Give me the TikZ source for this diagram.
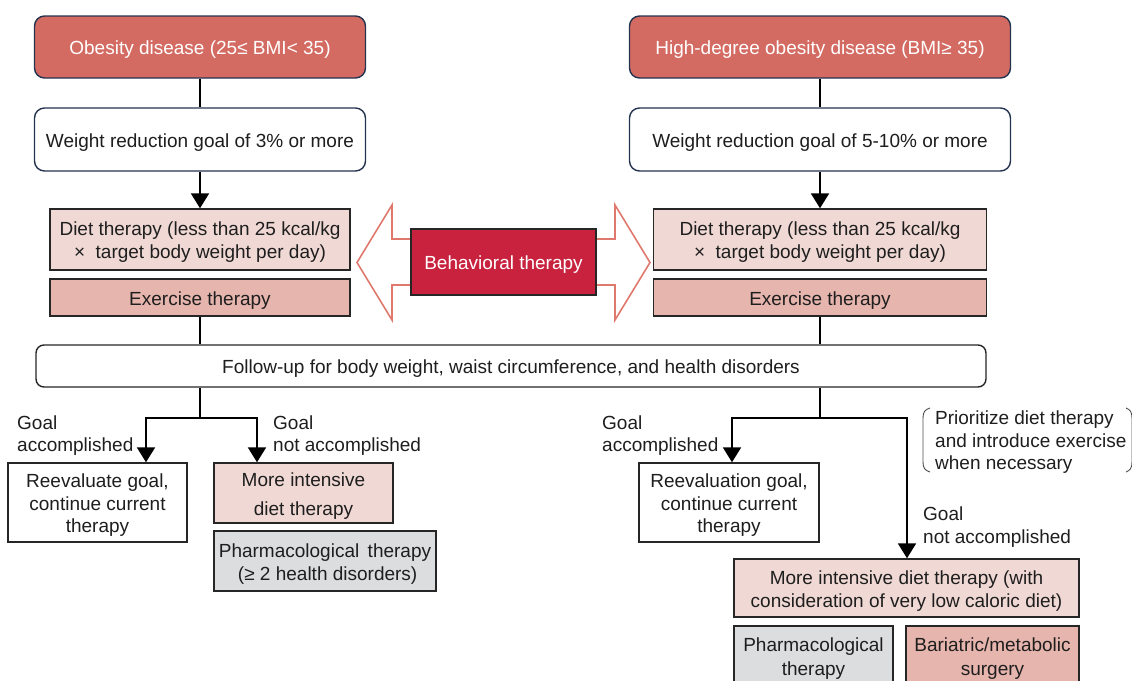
\documentclass[tikz,border=0pt]{standalone}
\usepackage{fontspec}
\setmainfont{Liberation Sans}
\usetikzlibrary{arrows.meta}
\definecolor{topfill}{HTML}{D46B63}
\definecolor{navy}{HTML}{24344F}
\definecolor{dietfill}{HTML}{F0D9D4}
\definecolor{exfill}{HTML}{E6B5AD}
\definecolor{behfill}{HTML}{C8223F}
\definecolor{arrline}{HTML}{E0796D}
\definecolor{grayfill}{HTML}{DCDDDF}
\definecolor{txt}{HTML}{1E1E1E}
\newcommand{\tstrut}{\rule{0pt}{19.8pt}}
\begin{document}
\begin{tikzpicture}[x=1pt,y=-1pt,
 base/.style={inner sep=0pt, align=center, font=\fontsize{19}{23}\selectfont, text=txt},
 lowered/.style={execute at begin node={\rule{0pt}{19.8pt}}},
 topbox/.style={base, lowered, draw=navy, line width=1.4pt, fill=topfill, rounded corners=10pt, text=white},
 goalbox/.style={base, lowered, draw=navy, line width=1.4pt, fill=white, rounded corners=10pt},
 sqbox/.style={base, lowered, draw=black!85, line width=1.4pt},
 line/.style={line width=2pt, draw=black},
 arr/.style={line, -{Triangle[width=18pt,length=15pt]}},
 lbl/.style={base, align=left, anchor=north west},
 bigarrow/.style={draw=arrline, line width=1.6pt, fill=white, line join=miter},
 brace/.style={draw=black!70, line width=0.9pt},
]
\useasboundingbox (0,0) rectangle (1132,680);

% top boxes
\node[topbox, minimum width=331pt, minimum height=62pt] (topL) at (200,47) {Obesity disease (25≤ BMI< 35)};
\node[topbox, minimum width=381pt, minimum height=62pt] (topR) at (820,47) {High-degree obesity disease (BMI≥ 35)};

% goal boxes
\node[goalbox, minimum width=331pt, minimum height=63pt] (wL) at (200,139.5) {Weight reduction goal of 3\% or more};
\node[goalbox, minimum width=381pt, minimum height=63pt] (wR) at (820,139.5) {Weight reduction goal of 5-10\% or more};

% diet / exercise
\node[sqbox, fill=dietfill, minimum width=300pt, minimum height=61pt] (dL) at (200,239.5) {\tstrut Diet therapy (less than 25 kcal/kg\\× \ target body weight per day)};
\node[sqbox, fill=exfill, minimum width=300pt, minimum height=37pt] (eL) at (200,297.5) {Exercise therapy};
\node[sqbox, fill=dietfill, minimum width=333pt, minimum height=61pt] (dR) at (820,239.5) {\tstrut Diet therapy (less than 25 kcal/kg\\× \ target body weight per day)};
\node[sqbox, fill=exfill, minimum width=333pt, minimum height=37pt] (eR) at (820,297.5) {Exercise therapy};

% behavioral therapy hollow arrows
\draw[bigarrow] (411,239) -- (392,239) -- (392,205) -- (357,262.5) -- (392,320) -- (392,285) -- (411,285);
\draw[bigarrow] (596,239) -- (615,239) -- (615,205) -- (650,262.5) -- (615,320) -- (615,285) -- (596,285);
\node[sqbox, fill=behfill, text=white, minimum width=185pt, minimum height=66pt] (behav) at (503.5,262) {Behavioral therapy};

% follow-up
\node[base, lowered, draw=black!85, line width=1.4pt, rounded corners=8pt, fill=white, minimum width=950pt, minimum height=42pt] (follow) at (511,366) {Follow-up for body weight, waist circumference, and health disorders};

% left outcomes
\node[sqbox, fill=white, minimum width=179pt, minimum height=79pt, font=\fontsize{19}{22.5}\selectfont] (reL) at (97.5,502.5) {\tstrut Reevaluate goal,\\continue current\\therapy};
\node[sqbox, fill=dietfill, minimum width=179pt, minimum height=60pt, font=\fontsize{19}{29}\selectfont] (midL) at (303.5,493) {\tstrut More intensive\\diet therapy};
\node[sqbox, fill=grayfill, minimum width=222pt, minimum height=60pt] (pharmL) at (325,561) {\tstrut Pharmacological \,therapy\\ \ (≥ 2 health disorders)};

% right outcomes
\node[sqbox, fill=white, minimum width=180pt, minimum height=79pt, font=\fontsize{19}{22.5}\selectfont] (reR) at (729,502.5) {\tstrut Reevaluation goal,\\continue current\\therapy};
\node[sqbox, fill=dietfill, minimum width=345pt, minimum height=58pt] (midR) at (906.5,588) {\tstrut More intensive diet therapy (with\\consideration of very low caloric diet)};
\node[sqbox, fill=grayfill, minimum width=159pt, minimum height=60pt, font=\fontsize{19}{24}\selectfont] (pharmR) at (813.5,656) {\tstrut Pharmacological\\therapy};
\node[sqbox, fill=exfill, minimum width=173pt, minimum height=60pt, font=\fontsize{19}{24}\selectfont] (bariR) at (992.5,656) {\tstrut Bariatric/metabolic\\surgery};

% connectors top part
\draw[line] (topL) -- (wL);
\draw[arr] (wL) -- (dL);
\draw[line] (eL) -- (follow.north -| eL);
\draw[line] (topR) -- (wR);
\draw[arr] (wR) -- (dR);
\draw[line] (eR) -- (follow.north -| eR);

% branch points
\coordinate (bL) at (200,418);
\coordinate (aL1) at (146,418);
\coordinate (aL2) at (257,418);
\coordinate (bR) at (820,418);
\coordinate (aR1) at (732,418);
\coordinate (aR2) at (907,418);

\draw[line] (follow.south -| bL) -- (bL);
\draw[arr] (bL) -- (aL1) -- (reL.north -| aL1);
\draw[arr] (bL) -- (aL2) -- (midL.north -| aL2);
\draw[line] (follow.south -| bR) -- (bR);
\draw[arr] (bR) -- (aR1) -- (reR.north -| aR1);
\draw[arr] (bR) -- (aR2) -- (midR.north -| aR2);

% labels
\node[lbl, font=\fontsize{19}{22}\selectfont] (gaL) at (17,416) {Goal\\accomplished};
\node[lbl, font=\fontsize{19}{22}\selectfont] (gnL) at (273,416) {Goal\\not accomplished};
\node[lbl, font=\fontsize{19}{22}\selectfont] (gaR) at (602,416) {Goal\\accomplished};
\node[lbl, font=\fontsize{19}{22.5}\selectfont] (note) at (935,411) {Prioritize diet therapy\\and introduce exercise\\when necessary};
\node[lbl, font=\fontsize{19}{22.5}\selectfont] (gnR) at (923,507) {Goal\\not accomplished};

% brackets around note
\draw[brace] (930,408) .. controls (925,409.5) and (923,412) .. (923,418) -- (923,462) .. controls (923,468) and (925,470.5) .. (930,472);
\draw[brace] (1126,408) .. controls (1130,409.5) and (1132,412) .. (1132,418) -- (1132,462) .. controls (1132,468) and (1130,470.5) .. (1126,472);
\end{tikzpicture}
\end{document}
